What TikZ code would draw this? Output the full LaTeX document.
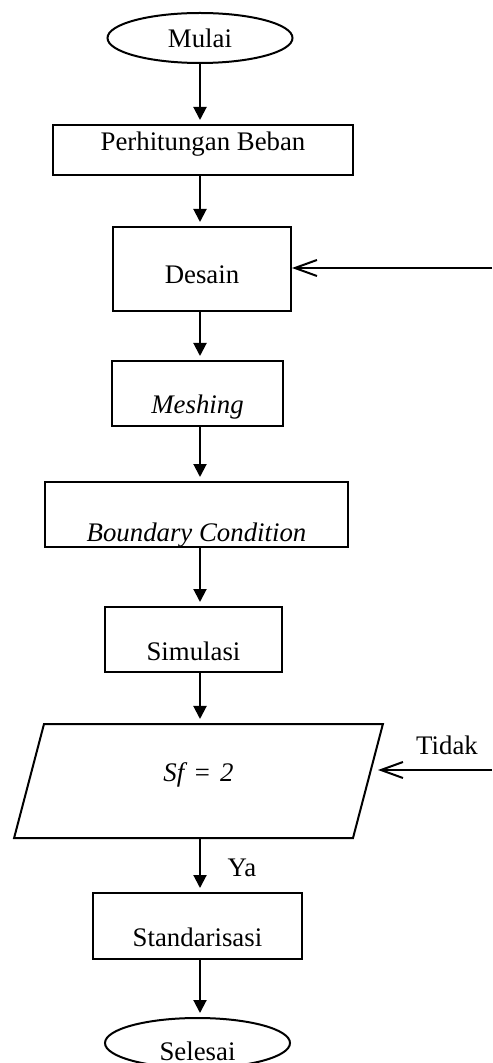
\documentclass[tikz,border=0pt]{standalone}
\usepackage{fontspec}
\setmainfont{Liberation Serif}
\usetikzlibrary{shapes.geometric,arrows.meta,calc}
\tikzset{
	box/.style={draw,line width=1pt,rectangle,inner sep=0pt},
	term/.style={draw,line width=1pt,ellipse,inner sep=0pt,minimum width=92.5pt,minimum height=25pt},
	para/.style={draw,line width=1pt,trapezium,trapezium left angle=75.3,trapezium right angle=104.7,
		inner xsep=0pt,inner ysep=28.5pt,text width=154.5pt,align=center},
	arr/.style={line width=1pt,-{Triangle[length=6.5pt,width=6.5pt]},shorten >=2pt},
	back/.style={line width=1pt,-{Straight Barb[length=11pt,width=8pt]}},
	lift/.style={text height=#1,text depth=0pt},
}
\begin{document}
\begin{tikzpicture}[x=0.5pt,y=0.5pt,font=\fontsize{13.4}{16}\selectfont]
\useasboundingbox (0,0) rectangle (492,-1063);
%start
\node[term] (mulai) at (200,-38) {Mulai};
%steps
\node[box,minimum width=150pt,minimum height=25pt,lift=1pt] (beban) at (203,-150) {Perhitungan Beban};
\node[box,minimum width=89pt,minimum height=42pt,lift=15pt] (desain) at (202,-269) {Desain};
\node[box,minimum width=85.5pt,minimum height=32.5pt,lift=19.5pt] (mesh) at (197.5,-393.5) {\textit{Meshing}};
\node[box,minimum width=151.5pt,minimum height=32.5pt,lift=26.5pt] (bc) at (196.5,-514.5) {\textit{Boundary Condition}};
\node[box,minimum width=88.5pt,minimum height=32.5pt,lift=20.5pt] (sim) at (193.5,-639.5) {Simulasi};
%check
\node[para,lift=0pt] (sf) at (198.5,-781) {\textit{Sf = 2}};
\node[box,minimum width=104.5pt,minimum height=33pt,lift=20pt] (std) at (197.5,-926) {Standarisasi};
%end
\node[term,lift=17pt] (selesai) at (197.5,-1043) {Selesai};
%labels
\node (ya) at (242,-868) {Ya};
\node (tidak) at (447,-745) {Tidak};
\coordinate (fb1) at (492,-268);
\coordinate (fb2) at (492,-770);
%arrows
\draw[arr] (mulai.south) -- (beban.north -| mulai);
\draw[arr] (beban.south -| mulai) -- (desain.north -| mulai);
\draw[arr] (desain.south -| mulai) -- (mesh.north -| mulai);
\draw[arr] (mesh.south -| mulai) -- (bc.north -| mulai);
\draw[arr] (bc.south -| mulai) -- (sim.north -| mulai);
\draw[arr] (sim.south -| mulai) -- (sf.north -| mulai);
\draw[arr] (sf.south -| mulai) -- (std.north -| mulai);
\draw[arr] (std.south -| mulai) -- (selesai.north -| mulai);
\draw[back] (fb1) -- (fb1 -| desain.east);
\draw[back,shorten >=3pt] (fb2) -- (fb2 -| {$(sf.top right corner)!0.4!(sf.bottom right corner)$});
\end{tikzpicture}
\end{document}
